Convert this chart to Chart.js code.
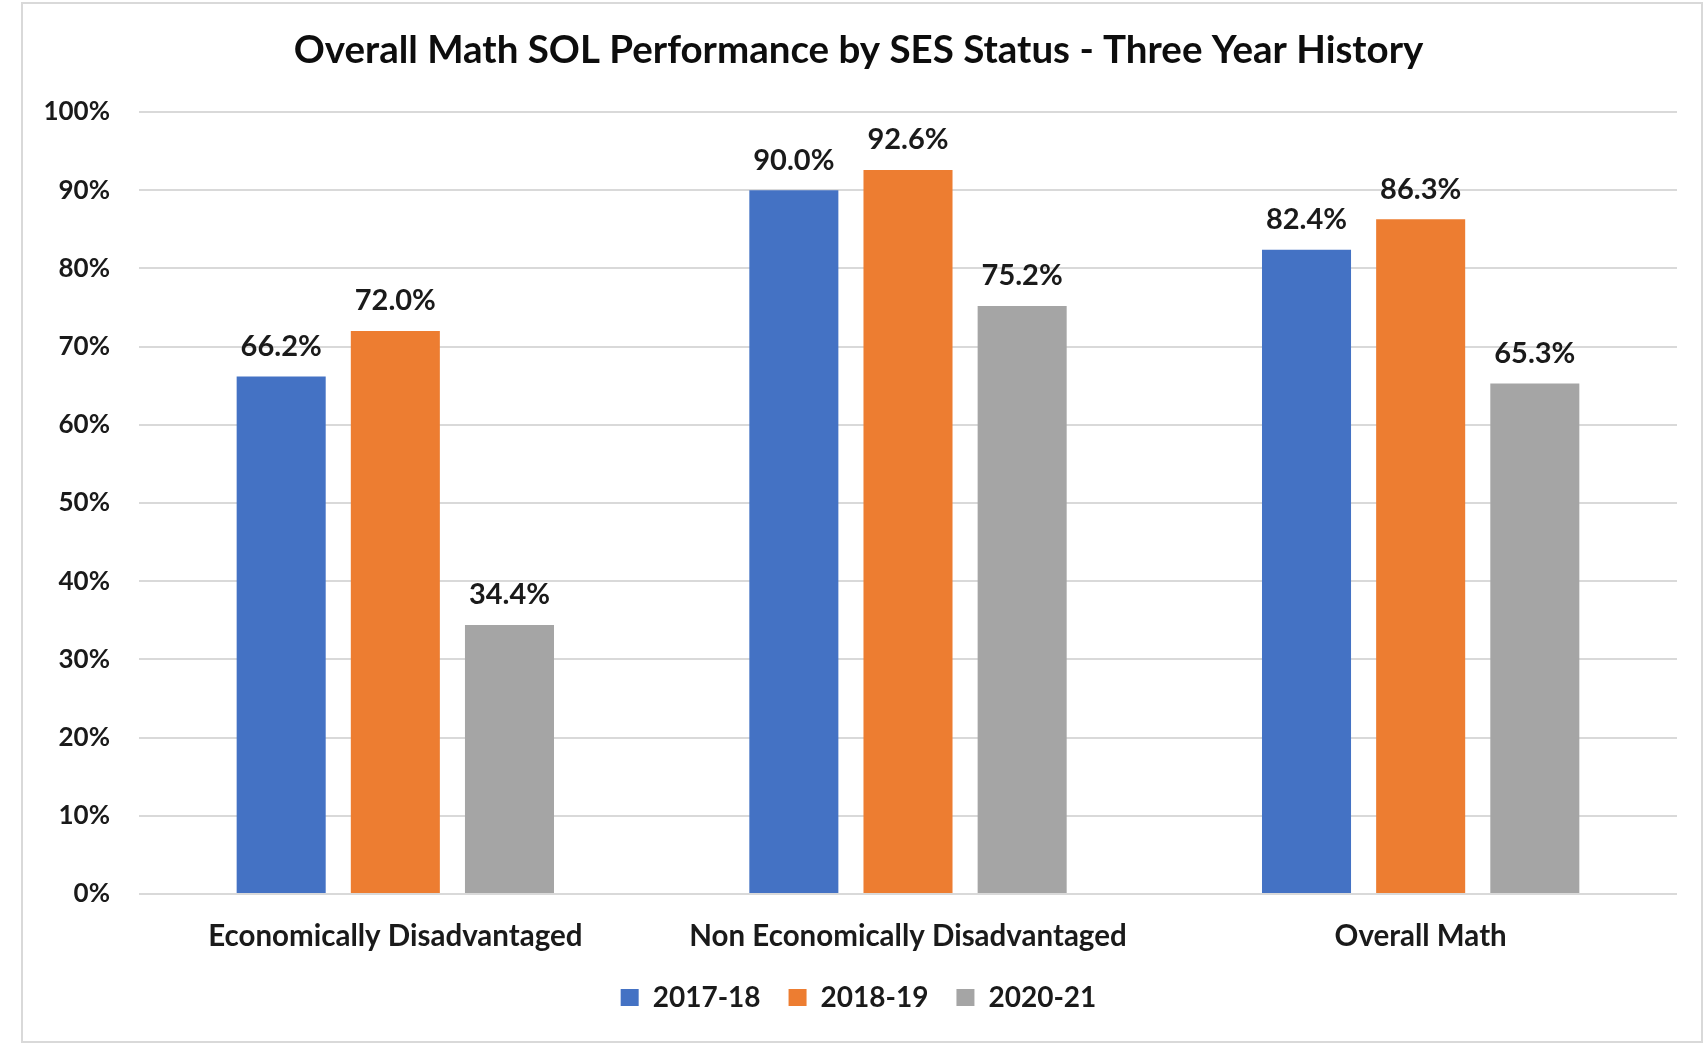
<!DOCTYPE html>
<html lang="en">
<head>
  <meta charset="UTF-8">
  <title>Overall Math SOL Performance</title>
  <script src="https://cdn.jsdelivr.net/npm/chart.js"></script>
  <style>
    html, body {
      margin: 0;
      padding: 0;
      background: #ffffff;
      overflow: hidden;
    }

    .quadro {
      position: absolute;
      left: 21px;
      top: 2px;
      width: 1678px;
      height: 1037px;
      border: 2px solid #d9d9d9;
      pointer-events: none;
    }

    #grafico {
      position: absolute;
      left: 0;
      top: 0;
    }
  </style>
</head>
<body>

  <canvas id="grafico" width="1704" height="1045"></canvas>
  <div class="quadro"></div>

<script>

  // dados
  var categorias = ['Economically Disadvantaged', 'Non Economically Disadvantaged', 'Overall Math'];
  var anos = ['2017-18', '2018-19', '2020-21'];
  var valores1718 = [66.2, 90.0, 82.4];
  var valores1819 = [72.0, 92.6, 86.3];
  var valores2021 = [34.4, 75.2, 65.3];
  var ticksY = [0, 10, 20, 30, 40, 50, 60, 70, 80, 90, 100];

  var cores = ['#4472C4', '#ED7D31', '#A5A5A5'];
  var corTexto = '#1a1a1a';
  var fonte = 'Lato';

  // rotulos em cima das barras
  const rotulos = {
    id: 'rotulos',
    afterDatasetsDraw(chart) {
      const ctx = chart.ctx;
      ctx.save();
      ctx.font = 'bold 29px ' + fonte;
      ctx.fillStyle = corTexto;
      ctx.textAlign = 'center';
      ctx.textBaseline = 'middle';
      chart.data.datasets.forEach(function (ds, i) {
        const meta = chart.getDatasetMeta(i);
        meta.data.forEach(function (barra, j) {
          ctx.fillText(ds.data[j].toFixed(1) + '%', barra.x, barra.y - 30);
        });
      });
      ctx.restore();
    }
  };

  const ctxGraf = document.getElementById('grafico');

  const meuGrafico = new Chart(ctxGraf, {
    type: 'bar',
    data: {
      labels: categorias,
      datasets: [{
        label: anos[0],
        data: valores1718,
        backgroundColor: cores[0]
      }, {
        label: anos[1],
        data: valores1819,
        backgroundColor: cores[1]
      }, {
        label: anos[2],
        data: valores2021,
        backgroundColor: cores[2]
      }]
    },
    options: {
      responsive: false,
      animation: false,
      categoryPercentage: 0.668,
      barPercentage: 0.78,
      layout: {
        padding: { left: 40, right: 27, top: 0, bottom: 23.4 }
      },
      plugins: {
        tooltip: { enabled: false },
        title: {
          display: true,
          text: 'Overall Math SOL Performance by SES Status - Three Year History',
          color: '#0d0d0d',
          font: { family: fonte, size: 38.5, weight: 'bold', lineHeight: 1.2 },
          padding: { top: 27.9, bottom: 38 }
        },
        legend: {
          position: 'bottom',
          labels: {
            color: corTexto,
            font: { family: fonte, size: 28, weight: 'bold', lineHeight: 1 },
            boxWidth: 18,
            boxHeight: 17,
            padding: 28
          }
        }
      },
      scales: {
        x: {
          grid: { display: false, drawTicks: false },
          border: { display: false },
          ticks: {
            color: corTexto,
            padding: 24.3,
            font: { family: fonte, size: 29.5, weight: 'bold', lineHeight: 1.2 }
          },
          afterFit: function (scale) {
            scale.height = 61.6;
          }
        },
        y: {
          min: 0,
          max: 100,
          afterBuildTicks: function (scale) {
            scale.ticks = ticksY.map(function (v) { return { value: v }; });
          },
          grid: { color: '#d9d9d9', lineWidth: 2, drawTicks: false },
          border: { display: false },
          ticks: {
            color: corTexto,
            padding: 29,
            font: { family: fonte, size: 26, weight: 'bold' },
            callback: function (v) { return v + '%'; }
          },
          afterFit: function (scale) {
            scale.width = 99;
          }
        }
      }
    },
    plugins: [rotulos]
  });

</script>
</body>
</html>
